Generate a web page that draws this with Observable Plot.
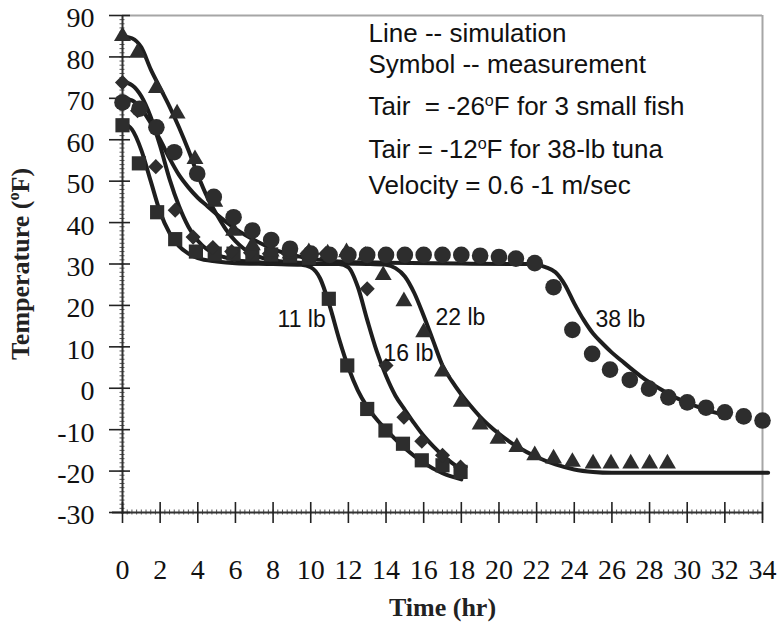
<!DOCTYPE html>
<html>
<head>
<meta charset="utf-8">
<script src="https://cdn.jsdelivr.net/npm/d3@7"></script>
<script src="https://cdn.jsdelivr.net/npm/@observablehq/plot@0.6"></script>
<style>
  html, body { margin: 0; padding: 0; background: #fff; }
  #chart svg { display: block; }
</style>
</head>
<body>
<div id="chart"></div>
<script>
// ---------- tick labels ----------
const xTicks = [0, 2, 4, 6, 8, 10, 12, 14, 16, 18, 20, 22, 24, 26, 28, 30, 32, 34];
const yTicks = [-30, -20, -10, 0, 10, 20, 30, 40, 50, 60, 70, 80, 90];
const xMinor = d3.range(0, 34.001, 0.25);
const yMinor = d3.range(-30, 90.001, 1);

// ---------- simulation lines [time hr, temperature F] ----------
const sim11 = [[0,64],[0.5,62.5],[1,57.5],[1.5,50],[2,42.5],[2.5,37.5],[3,34.3],[3.5,32.5],[4,31.4],[5,30.6],[6,30.2],[8,30],[9.5,29.8],[10,29.2],[10.5,26.5],[11,20],[11.5,12],[12,5],[12.5,-0.5],[13,-4.5],[13.5,-7.5],[14,-10],[15,-14.5],[16,-18],[17,-20.5],[18,-22]];
const sim16 = [[0,74],[0.5,73.2],[1,70.5],[1.5,65.5],[2,58.5],[2.5,50.5],[3,44],[3.5,39],[4,35.6],[4.5,33.5],[5,32.3],[6,31],[7,30.5],[8,30.2],[10,30],[11.5,30],[12,29.2],[12.5,24.5],[13,16.5],[13.5,9],[14,3],[14.5,-1.8],[15,-5.2],[15.5,-8.5],[16,-11.5],[16.5,-14],[17,-16.2],[17.5,-18],[18,-19.5]];
const sim22 = [[0,85],[0.5,84.5],[1,82.3],[1.5,77],[2,72.5],[2.5,68],[3,63],[3.5,57.5],[4,51.5],[4.5,46.2],[5,42],[5.5,38.3],[6,35.5],[6.5,33.5],[7,32.2],[8,30.9],[9,30.4],[10,30.2],[13,30],[14,29.8],[14.5,29],[15,27],[15.5,23],[16,17.5],[16.5,11.5],[17,5.5],[17.5,1.7],[18,-1.5],[18.5,-4.3],[19,-6.9],[20,-11],[21,-14.2],[22,-16.6],[23,-18.4],[24,-19.6],[25,-20.2],[26,-20.4],[34.3,-20.4]];
const sim38 = [[0,70],[0.5,69.5],[1,67.5],[1.5,64],[2,60],[2.5,55.5],[3,51.5],[3.5,48.5],[4,46],[4.5,44],[5,42],[6,38.5],[7,35.8],[8,33.6],[9,32.2],[10,31.3],[11,30.8],[12,30.5],[14,30.3],[18,30.1],[21.5,30],[22,29.8],[22.5,29.2],[23,28],[23.5,25],[24,20.5],[24.5,16.5],[25,13.2],[25.5,10.8],[26,8.6],[26.5,6.7],[27,4.8],[27.5,3],[28,1.4],[28.5,0],[29,-1.3],[29.5,-2.5],[30,-3.5],[30.5,-4.4],[31,-5.2],[31.5,-5.9],[32,-6.4]];

// ---------- measurements [time hr, temperature F] ----------
const meas11 = [[0,63.5],[0.87,54.3],[1.84,42.5],[2.8,36],[3.9,33],[4.9,32.5],[5.9,32.5],[6.9,32.3],[7.9,32.3],[8.9,32],[9.9,31.5],[10.96,21.6],[11.94,5.5],[13,-5],[13.97,-10.2],[14.9,-13.4],[15.9,-17.4],[17,-18.6],[17.96,-20.2]];
const meas16 = [[0,73.8],[0.8,67],[1.77,53.5],[2.8,43],[3.75,36.5],[4.8,34],[5.8,33],[6.8,32.7],[7.8,32.5],[8.8,32.5],[9.8,32.5],[10.8,32.5],[11.9,32.3],[13,24],[14,5.5],[14.95,-7],[15.9,-12.8],[17,-16.2],[17.96,-19]];
const meas22 = [[0,85],[0.8,81],[1.8,72.5],[2.9,66.3],[3.85,55.3],[4.9,45],[5.9,38],[6.9,34.5],[7.9,33],[8.9,32.5],[9.9,32.8],[10.9,32.5],[11.9,32.8],[12.9,32],[13.85,27.3],[14.95,21],[16,13.5],[17,4],[18,-3.3],[19,-8.8],[19.95,-12.2],[20.95,-14.2],[21.9,-16.2],[22.9,-17],[23.9,-17.8],[25,-18.2],[25.95,-18.2],[27,-18.2],[28,-18.2],[28.95,-18.2]];
const meas38 = [[0,69],[0.9,67.5],[1.8,63],[2.75,57],[3.97,51.8],[4.85,46.2],[5.9,41.3],[6.9,38.1],[7.9,35.8],[8.9,33.7],[10,32.5],[11,32.2],[12,32.2],[13,32.2],[14,32.2],[15,32.2],[16,32.2],[17,32.2],[18,32.2],[19,32],[20,31.7],[20.9,31.3],[21.9,30.2],[22.9,24.4],[23.9,14.1],[24.95,8.3],[25.9,4.5],[26.95,2],[27.97,-0.1],[29,-2.2],[30,-3.4],[31,-4.7],[32,-5.8],[33,-6.8],[34,-7.8]];

// ---------- text ----------
const curveLabels = ["11 lb", "16 lb", "22 lb", "38 lb"];
const curveLabelAt = [[8.24, 14.9], [13.87, 6.5], [16.63, 15.2], [25.13, 14.7]];
const notes = ["Line -- simulation", "Symbol -- measurement", "Tair\u00a0 = -26°F for 3 small fish", "Tair = -12°F for 38-lb tuna", "Velocity = 0.6 -1 m/sec"];
const noteAt = [[13.07, 83.5], [13.07, 76.0], [13.07, 65.86], [13.07, 55.48], [13.07, 47.0]];
const xTitle = "Time (hr)";
const yTitle = "Temperature (°F)";

const serif = "'Liberation Serif','Times New Roman',Times,serif";
const sans = "'Liberation Sans',Arial,Helvetica,sans-serif";
const ink = "#1e1e1e";
const markFill = "#2d2d2d";

const X = d => d[0], Y = d => d[1];

const chart = Plot.plot({
  width: 780,
  height: 626,
  marginLeft: 122,
  marginRight: 18,
  marginTop: 15,
  marginBottom: 114,
  x: {domain: [0, 34], axis: null},
  y: {domain: [-30, 90], axis: null},
  style: {fontFamily: serif, background: "#fff", overflow: "visible"},
  marks: [
    // frame (top & right, light gray)
    Plot.ruleY([90], {stroke: "#a6a6a6", strokeWidth: 2}),
    Plot.ruleX([34], {stroke: "#a6a6a6", strokeWidth: 2, insetBottom: -8}),
    // minor hatch ticks
    Plot.ruleY(yMinor, {y: d => d, x1: () => 0, x2: () => 0, insetLeft: -2.5, insetRight: -2.5, stroke: "#555", strokeWidth: 1}),
    Plot.ruleX(xMinor, {x: d => d, y1: () => -30, y2: () => -30, insetTop: -2.5, insetBottom: -2.5, stroke: "#555", strokeWidth: 1}),
    // axis lines
    Plot.ruleX([0], {stroke: "#333", strokeWidth: 2, insetBottom: -2}),
    Plot.ruleY([-30], {stroke: "#333", strokeWidth: 2, insetLeft: -10}),
    // major ticks crossing the axes
    Plot.ruleX(xTicks, {x: d => d, y1: () => -30, y2: () => -30, insetTop: -10, insetBottom: -11, stroke: "#222", strokeWidth: 1.6}),
    Plot.ruleY(yTicks, {y: d => d, x1: () => 0, x2: () => 0, insetLeft: -13, insetRight: -8, stroke: "#222", strokeWidth: 1.6}),
    // tick labels
    Plot.text(xTicks, {x: d => d, frameAnchor: "bottom", text: d => String(d), textAnchor: "middle", lineAnchor: "bottom", dy: 66, fontSize: 28, fontFamily: serif, fill: "#111"}),
    Plot.text(yTicks, {y: d => d, frameAnchor: "left", text: d => String(d), textAnchor: "end", lineAnchor: "middle", dx: -28, dy: 3, fontSize: 28, fontFamily: serif, fill: "#111"}),
    // simulation lines
    ...[sim11, sim16, sim22, sim38].map(s =>
      Plot.line(s, {x: X, y: Y, curve: "monotone-x", stroke: ink, strokeWidth: 4})
    ),
    // measurements
    Plot.dot(meas11, {x: X, y: Y, symbol: "square", r: 8, fill: markFill, stroke: "none"}),
    Plot.dot(meas16, {x: X, y: Y, symbol: d3.symbolDiamond2, r: 6.8, fill: markFill, stroke: "none"}),
    Plot.dot(meas22, {x: X, y: Y, symbol: "triangle", r: 6.3, fill: markFill, stroke: "none"}),
    Plot.dot(meas38, {x: X, y: Y, symbol: "circle", r: 8.3, fill: markFill, stroke: "none"}),
    // curve labels
    Plot.text(curveLabels, {x: (d, i) => curveLabelAt[i][0], y: (d, i) => curveLabelAt[i][1], text: d => d, textAnchor: "start", lineAnchor: "bottom", fontSize: 23, fontFamily: sans, fill: "#111"}),
    // notes
    Plot.text(notes, {x: (d, i) => noteAt[i][0], y: (d, i) => noteAt[i][1], text: d => d, textAnchor: "start", lineAnchor: "bottom", fontSize: 26, fontFamily: sans, fill: "#111"}),
    // axis titles
    Plot.text([xTitle], {frameAnchor: "bottom", text: d => d, textAnchor: "middle", lineAnchor: "bottom", dy: 103, fontSize: 26, fontWeight: "bold", fontFamily: serif, fill: "#222"}),
    Plot.text([yTitle], {frameAnchor: "left", text: d => d, textAnchor: "middle", lineAnchor: "middle", rotate: -90, dx: -102, fontSize: 26, fontWeight: "bold", fontFamily: serif, fill: "#222"})
  ]
});

// superscript "o" for degree symbols
d3.select(chart).selectAll("text").each(function () {
  const t = this.textContent;
  if (!t.includes("°") || this.querySelector("tspan")) return;
  const fs = parseFloat(getComputedStyle(this).fontSize) || 26;
  const [a, b] = t.split("°");
  const sel = d3.select(this);
  sel.text(null);
  sel.append("tspan").text(a);
  sel.append("tspan").attr("font-size", fs * 0.62).attr("dy", -fs * 0.38).text("o");
  sel.append("tspan").attr("dy", fs * 0.38).text(b);
});

document.getElementById("chart").appendChild(chart);
</script>
</body>
</html>
